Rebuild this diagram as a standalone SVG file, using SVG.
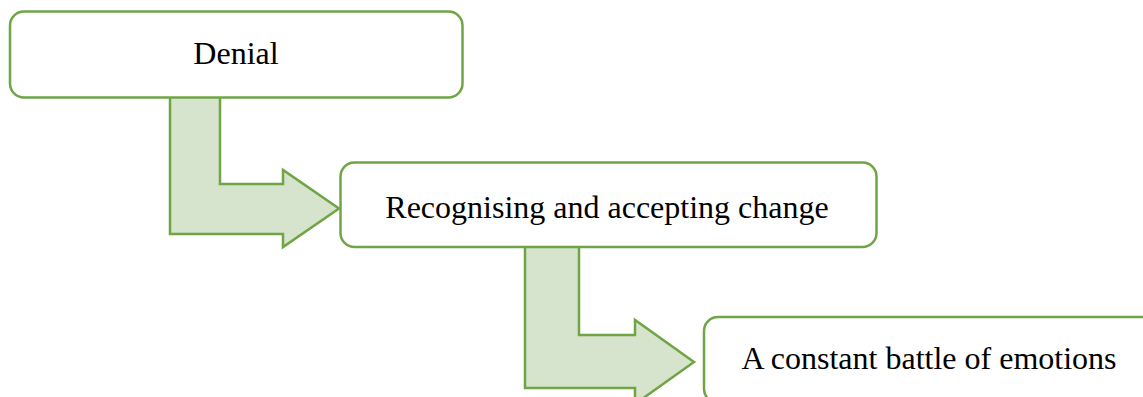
<svg xmlns="http://www.w3.org/2000/svg" width="1143" height="397" viewBox="0 0 1143 397">
<style>
.box{fill:#FFFFFF;stroke:#6FA545;stroke-width:2.5}
.arrow{fill:#D6E3CD;stroke:#6FA545;stroke-width:2.5;stroke-linejoin:miter}
.lbl{font-family:"Liberation Serif","Times New Roman",serif;font-size:32px;fill:#000000;text-anchor:middle}
</style>
<rect width="1143" height="397" fill="#FFFFFF"/>
<g id="connectors">
<polygon class="arrow" points="170,96 220,96 220,184 283,184 283,170 339,208.5 283,247 283,234 170,234"/>
<polygon class="arrow" points="525,246 579,246 579,335 635,335 635,320 694,362 635,404 635,388 525,388"/>
</g>
<g id="node-denial">
<rect class="box" x="10" y="11.5" width="452.5" height="86" rx="14" ry="14"/>
<text class="lbl" x="236" y="64">Denial</text>
</g>
<g id="node-recognising">
<rect class="box" x="340.5" y="162.5" width="536" height="84.5" rx="14" ry="14"/>
<text class="lbl" x="607" y="218">Recognising and accepting change</text>
</g>
<g id="node-battle">
<rect class="box" x="704" y="317" width="536" height="86" rx="14" ry="14"/>
<text class="lbl" x="929" y="369">A constant battle of emotions</text>
</g>
</svg>
